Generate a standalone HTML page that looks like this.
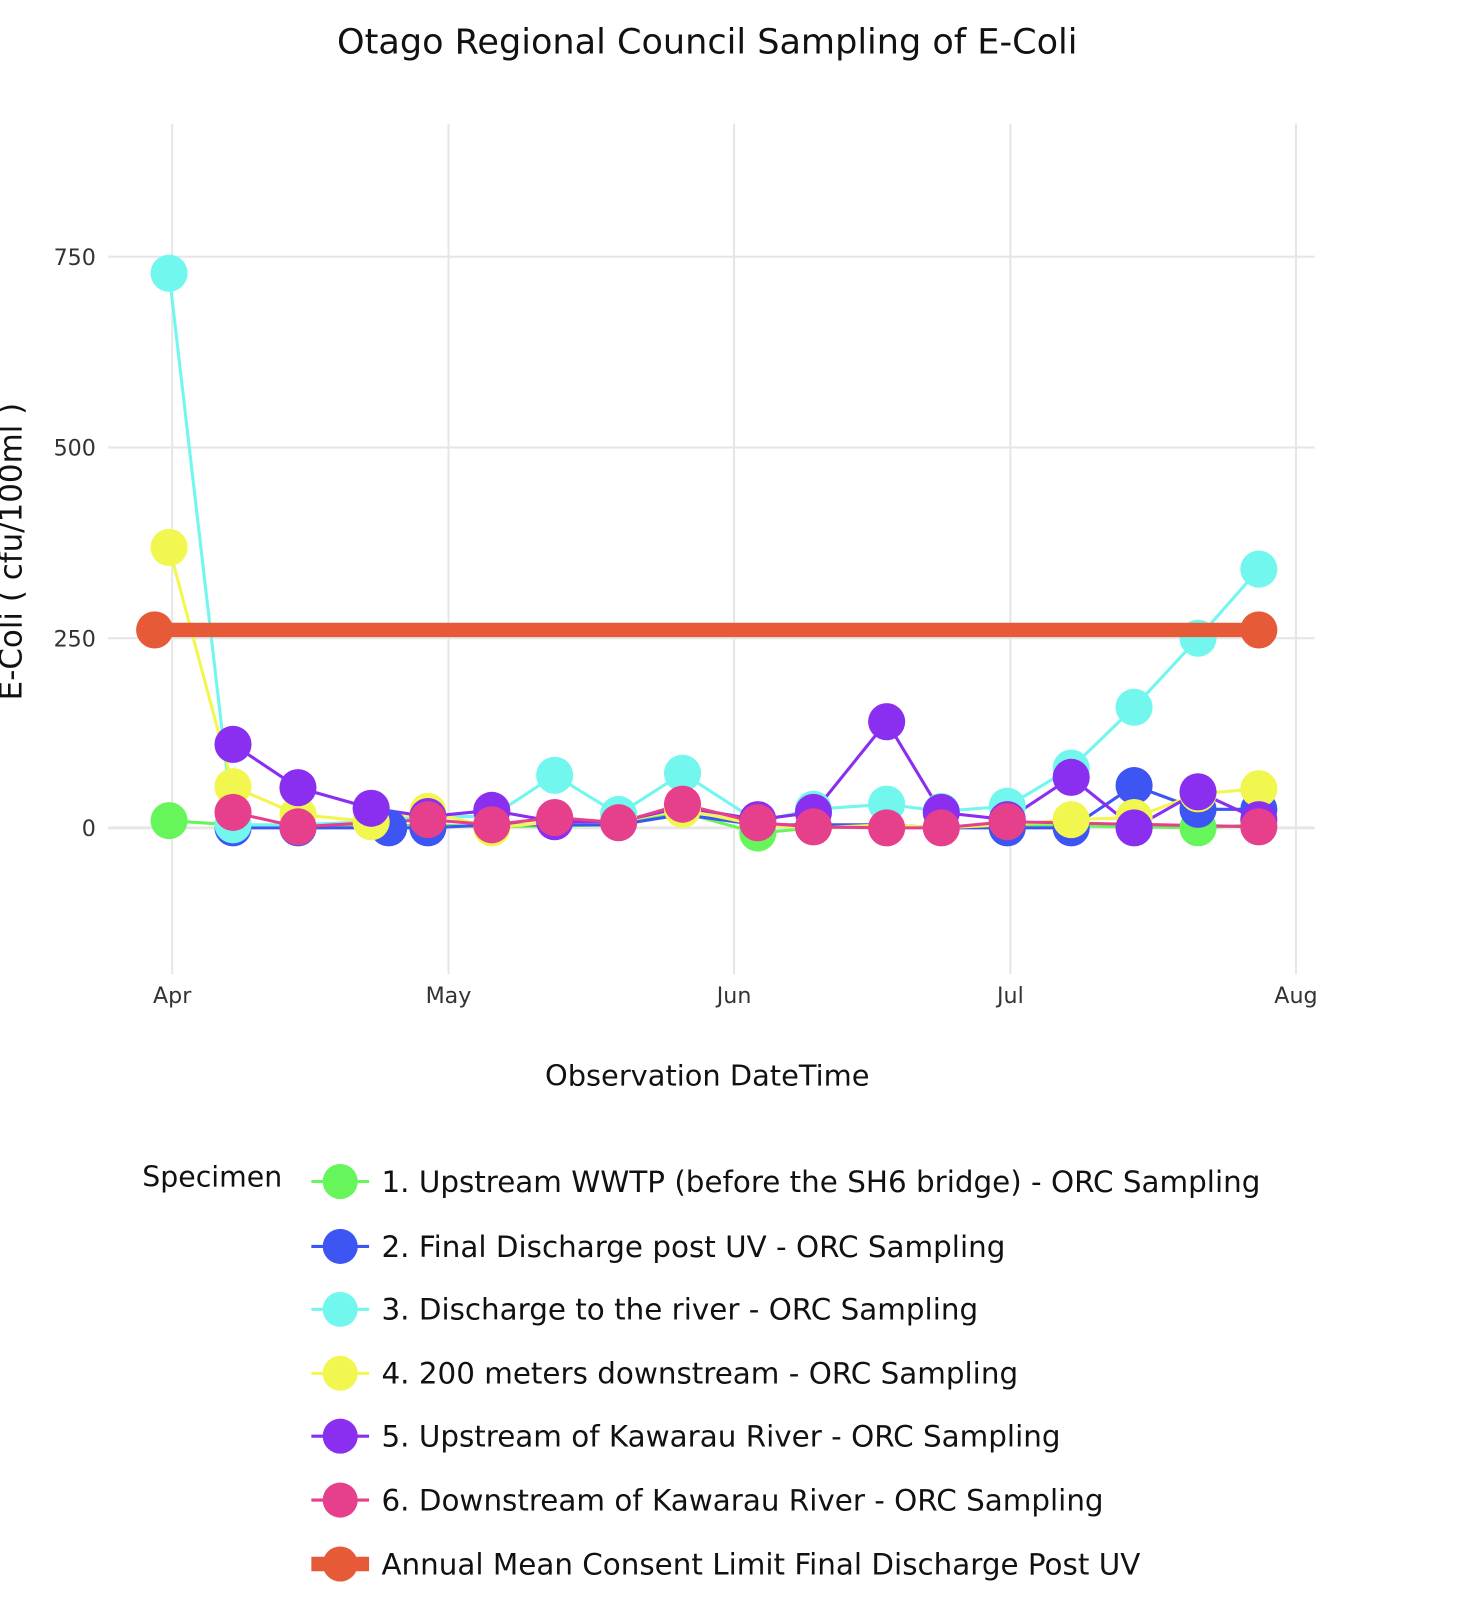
<!DOCTYPE html>
<html><head><meta charset="utf-8"><style>
html,body{margin:0;padding:0;background:#fff;}
svg{display:block;}
text{font-family:"DejaVu Sans","Liberation Sans",sans-serif;}
</style></head><body>
<svg width="1464" height="1614" viewBox="0 0 1420 1565.5" xmlns="http://www.w3.org/2000/svg">
<rect width="1420" height="1565.5" fill="#fff"/>
<text x="686" y="52" font-size="34" text-anchor="middle" fill="#111">Otago Regional Council Sampling of E-Coli</text>
<g stroke="#e6e6e6" stroke-width="2">
<line x1="167" y1="120" x2="167" y2="945"/><line x1="435" y1="120" x2="435" y2="945"/>
<line x1="712" y1="120" x2="712" y2="945"/><line x1="980" y1="120" x2="980" y2="945"/>
<line x1="1257" y1="120" x2="1257" y2="945"/>
<line x1="105" y1="249" x2="1275" y2="249"/><line x1="105" y1="434" x2="1275" y2="434"/>
<line x1="105" y1="619" x2="1275" y2="619"/><line x1="105" y1="803" x2="1275" y2="803" stroke-width="3"/>
</g>
<g font-size="21.5" fill="#333" text-anchor="end">
<text x="93" y="257">750</text><text x="93" y="442">500</text><text x="93" y="627">250</text><text x="93" y="811">0</text>
</g>
<g font-size="21.5" fill="#333" text-anchor="middle">
<text x="167" y="973">Apr</text><text x="435" y="973">May</text><text x="712" y="973">Jun</text><text x="980" y="973">Jul</text><text x="1257" y="973">Aug</text>
</g>
<text x="686" y="1053" font-size="28" text-anchor="middle" fill="#111">Observation DateTime</text>
<text transform="translate(21,535) rotate(-90)" font-size="30" text-anchor="middle" fill="#111">E-Coli  ( cfu/100ml )</text>
<g stroke-width="3" fill="none">
<polyline stroke="#66f55a" points="164,796 226,800 289,803 360,802 415,800 477,802 538,801 600,800 662,788 735,808 789,803 860,802 913,803 977,801 1039,801 1100,802 1162,803 1221,800"/>
<polyline stroke="#3d55f2" points="226,803 289,803 377,803 415,803 477,800 538,800 600,800 662,790 735,800 789,800 860,800 913,803 977,803 1039,803 1100,762 1162,785 1221,785"/>
<polyline stroke="#72f7ef" points="164,265 226,800 289,800 360,797 415,792 477,792 538,752 600,790 662,750 735,797 789,785 860,780 913,787 977,782 1039,745 1100,686 1162,619 1221,552"/>
<polyline stroke="#f2f74f" points="164,531 226,763 289,790 360,797 415,787 477,803 538,797 600,797 662,785 735,800 789,803 860,800 913,803 977,800 1039,795 1100,793 1162,770 1221,765"/>
<polyline stroke="#8a2ef0" points="226,722 289,764 360,784 415,792 477,786 538,797 600,797 662,783 735,795 789,788 860,700 913,788 977,795 1039,754 1100,803 1162,768 1221,795"/>
<polyline stroke="#e63f8c" points="226,788 289,802 415,795 477,800 538,793 600,798 662,780 735,798 789,802 860,803 913,803 977,797 1221,802"/>
</g>
<g>
<g fill="#66f55a"><circle cx="164" cy="796" r="18"/><circle cx="735" cy="808" r="18"/><circle cx="1162" cy="803" r="18"/></g>
<g fill="#3d55f2"><circle cx="226" cy="803" r="18"/><circle cx="289" cy="803" r="18"/><circle cx="377" cy="803" r="18"/><circle cx="415" cy="803" r="18"/><circle cx="977" cy="803" r="18"/><circle cx="1039" cy="803" r="18"/><circle cx="1100" cy="762" r="18"/><circle cx="1162" cy="785" r="18"/><circle cx="1221" cy="785" r="18"/></g>
<g fill="#72f7ef"><circle cx="164" cy="265" r="18"/><circle cx="226" cy="800" r="18"/><circle cx="538" cy="752" r="18"/><circle cx="600" cy="790" r="18"/><circle cx="662" cy="750" r="18"/><circle cx="789" cy="785" r="18"/><circle cx="860" cy="780" r="18"/><circle cx="913" cy="787" r="18"/><circle cx="977" cy="782" r="18"/><circle cx="1039" cy="745" r="18"/><circle cx="1100" cy="686" r="18"/><circle cx="1162" cy="619" r="18"/><circle cx="1221" cy="552" r="18"/></g>
<g fill="#f2f74f"><circle cx="164" cy="531" r="18"/><circle cx="226" cy="763" r="18"/><circle cx="289" cy="790" r="18"/><circle cx="360" cy="797" r="18"/><circle cx="415" cy="787" r="18"/><circle cx="477" cy="803" r="18"/><circle cx="662" cy="785" r="18"/><circle cx="1039" cy="795" r="18"/><circle cx="1100" cy="793" r="18"/><circle cx="1162" cy="770" r="18"/><circle cx="1221" cy="765" r="18"/></g>
<g fill="#8a2ef0"><circle cx="226" cy="722" r="18"/><circle cx="289" cy="764" r="18"/><circle cx="360" cy="784" r="18"/><circle cx="415" cy="792" r="18"/><circle cx="477" cy="786" r="18"/><circle cx="538" cy="797" r="18"/><circle cx="735" cy="795" r="18"/><circle cx="789" cy="788" r="18"/><circle cx="860" cy="700" r="18"/><circle cx="913" cy="788" r="18"/><circle cx="977" cy="795" r="18"/><circle cx="1039" cy="754" r="18"/><circle cx="1100" cy="803" r="18"/><circle cx="1162" cy="768" r="18"/><circle cx="1221" cy="795" r="18"/></g>
<g fill="#e63f8c"><circle cx="226" cy="788" r="18"/><circle cx="289" cy="802" r="18"/><circle cx="415" cy="795" r="18"/><circle cx="477" cy="800" r="18"/><circle cx="538" cy="793" r="18"/><circle cx="600" cy="798" r="18"/><circle cx="662" cy="780" r="18"/><circle cx="735" cy="798" r="18"/><circle cx="789" cy="802" r="18"/><circle cx="860" cy="803" r="18"/><circle cx="913" cy="803" r="18"/><circle cx="977" cy="797" r="18"/><circle cx="1221" cy="802" r="18"/></g>
</g>
<line x1="150" y1="611" x2="1221" y2="611" stroke="#e65a38" stroke-width="14"/>
<circle cx="150" cy="611" r="18" fill="#e65a38"/><circle cx="1221" cy="611" r="18" fill="#e65a38"/>
<text x="138" y="1151" font-size="27.5" fill="#111">Specimen</text>
<g font-size="28.5" fill="#111">
<line x1="302" y1="1146" x2="358" y2="1146" stroke="#66f55a" stroke-width="3"/><circle cx="330" cy="1146" r="17" fill="#66f55a"/><text x="370" y="1156">1. Upstream WWTP (before the SH6 bridge) - ORC Sampling</text>
<line x1="302" y1="1209" x2="358" y2="1209" stroke="#3d55f2" stroke-width="3"/><circle cx="330" cy="1209" r="17" fill="#3d55f2"/><text x="370" y="1219">2. Final Discharge post UV - ORC Sampling</text>
<line x1="302" y1="1270" x2="358" y2="1270" stroke="#72f7ef" stroke-width="3"/><circle cx="330" cy="1270" r="17" fill="#72f7ef"/><text x="370" y="1280">3. Discharge to the river - ORC Sampling</text>
<line x1="302" y1="1332" x2="358" y2="1332" stroke="#f2f74f" stroke-width="3"/><circle cx="330" cy="1332" r="17" fill="#f2f74f"/><text x="370" y="1342">4. 200 meters downstream - ORC Sampling</text>
<line x1="302" y1="1393" x2="358" y2="1393" stroke="#8a2ef0" stroke-width="3"/><circle cx="330" cy="1393" r="17" fill="#8a2ef0"/><text x="370" y="1403">5. Upstream of Kawarau River - ORC Sampling</text>
<line x1="302" y1="1455" x2="358" y2="1455" stroke="#e63f8c" stroke-width="3"/><circle cx="330" cy="1455" r="17" fill="#e63f8c"/><text x="370" y="1465">6. Downstream of Kawarau River - ORC Sampling</text>
<line x1="302" y1="1517" x2="358" y2="1517" stroke="#e65a38" stroke-width="14"/><circle cx="330" cy="1517" r="17" fill="#e65a38"/><text x="370" y="1527">Annual Mean Consent Limit Final Discharge Post UV</text>
</g>
</svg>
</body></html>
